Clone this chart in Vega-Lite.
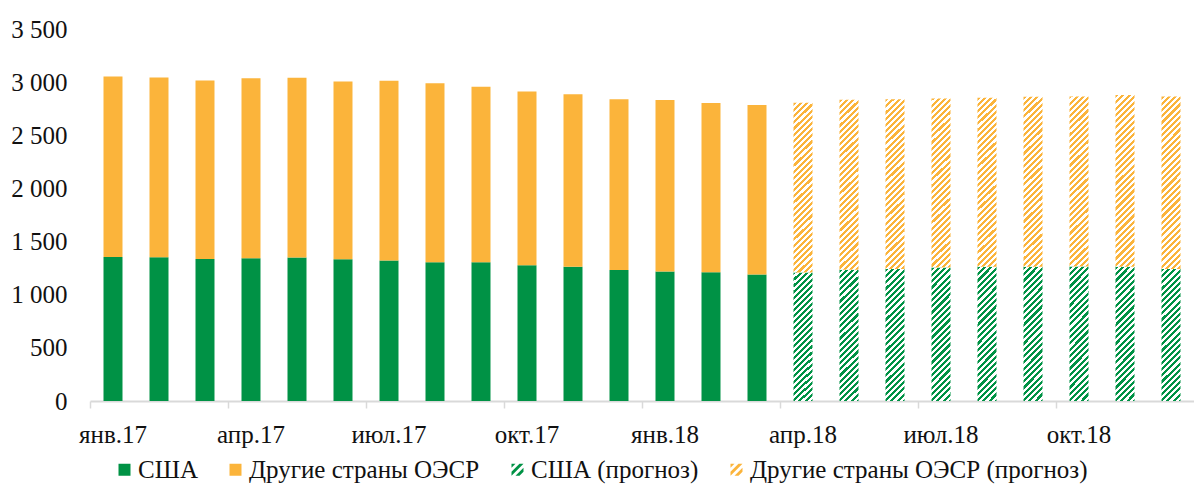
{
  "$schema": "https://vega.github.io/schema/vega-lite/v6.json",
  "width": 1104,
  "height": 372,
  "autosize": {"type": "none"},
  "padding": {"left": 90, "top": 29, "right": 0, "bottom": 84},
  "background": "white",
  "config": {
    "view": {"stroke": null},
    "font": "Liberation Serif",
    "axis": {"labelFont": "Liberation Serif", "labelFontSize": 25, "labelColor": "#111111"},
    "legend": {"labelFont": "Liberation Serif", "labelFontSize": 25, "labelColor": "#111111"}
  },
  "data": {
    "values": [
      {"m": "янв.17", "s": "США", "v": 1355}, {"m": "янв.17", "s": "Другие страны ОЭСР", "v": 1698},
      {"m": "фев.17", "s": "США", "v": 1352}, {"m": "фев.17", "s": "Другие страны ОЭСР", "v": 1692},
      {"m": "мар.17", "s": "США", "v": 1337}, {"m": "мар.17", "s": "Другие страны ОЭСР", "v": 1679},
      {"m": "апр.17", "s": "США", "v": 1343}, {"m": "апр.17", "s": "Другие страны ОЭСР", "v": 1694},
      {"m": "май.17", "s": "США", "v": 1349}, {"m": "май.17", "s": "Другие страны ОЭСР", "v": 1692},
      {"m": "июн.17", "s": "США", "v": 1334}, {"m": "июн.17", "s": "Другие страны ОЭСР", "v": 1672},
      {"m": "июл.17", "s": "США", "v": 1321}, {"m": "июл.17", "s": "Другие страны ОЭСР", "v": 1692},
      {"m": "авг.17", "s": "США", "v": 1306}, {"m": "авг.17", "s": "Другие страны ОЭСР", "v": 1684},
      {"m": "сен.17", "s": "США", "v": 1306}, {"m": "сен.17", "s": "Другие страны ОЭСР", "v": 1651},
      {"m": "окт.17", "s": "США", "v": 1278}, {"m": "окт.17", "s": "Другие страны ОЭСР", "v": 1634},
      {"m": "ноя.17", "s": "США", "v": 1262}, {"m": "ноя.17", "s": "Другие страны ОЭСР", "v": 1625},
      {"m": "дек.17", "s": "США", "v": 1233}, {"m": "дек.17", "s": "Другие страны ОЭСР", "v": 1607},
      {"m": "янв.18", "s": "США", "v": 1218}, {"m": "янв.18", "s": "Другие страны ОЭСР", "v": 1613},
      {"m": "фев.18", "s": "США", "v": 1212}, {"m": "фев.18", "s": "Другие страны ОЭСР", "v": 1591},
      {"m": "мар.18", "s": "США", "v": 1190}, {"m": "мар.18", "s": "Другие страны ОЭСР", "v": 1594},
      {"m": "апр.18", "s": "США (прогноз)", "v": 1210}, {"m": "апр.18", "s": "Другие страны ОЭСР (прогноз)", "v": 1596},
      {"m": "май.18", "s": "США (прогноз)", "v": 1236}, {"m": "май.18", "s": "Другие страны ОЭСР (прогноз)", "v": 1598},
      {"m": "июн.18", "s": "США (прогноз)", "v": 1243}, {"m": "июн.18", "s": "Другие страны ОЭСР (прогноз)", "v": 1597},
      {"m": "июл.18", "s": "США (прогноз)", "v": 1255}, {"m": "июл.18", "s": "Другие страны ОЭСР (прогноз)", "v": 1592},
      {"m": "авг.18", "s": "США (прогноз)", "v": 1262}, {"m": "авг.18", "s": "Другие страны ОЭСР (прогноз)", "v": 1591},
      {"m": "сен.18", "s": "США (прогноз)", "v": 1262}, {"m": "сен.18", "s": "Другие страны ОЭСР (прогноз)", "v": 1600},
      {"m": "окт.18", "s": "США (прогноз)", "v": 1265}, {"m": "окт.18", "s": "Другие страны ОЭСР (прогноз)", "v": 1601},
      {"m": "ноя.18", "s": "США (прогноз)", "v": 1262}, {"m": "ноя.18", "s": "Другие страны ОЭСР (прогноз)", "v": 1616},
      {"m": "дек.18", "s": "США (прогноз)", "v": 1243}, {"m": "дек.18", "s": "Другие страны ОЭСР (прогноз)", "v": 1623}
    ]
  },
  "layer": [
    {
      "mark": {"type": "bar"},
      "encoding": {
        "x": {
          "field": "m",
          "type": "ordinal",
          "scale": {
            "domain": ["янв.17", "фев.17", "мар.17", "апр.17", "май.17", "июн.17", "июл.17", "авг.17", "сен.17", "окт.17", "ноя.17", "дек.17", "янв.18", "фев.18", "мар.18", "апр.18", "май.18", "июн.18", "июл.18", "авг.18", "сен.18", "окт.18", "ноя.18", "дек.18"],
            "paddingInner": 0.587,
            "paddingOuter": 0.2935
          },
          "axis": {
            "title": null,
            "values": ["янв.17", "апр.17", "июл.17", "окт.17", "янв.18", "апр.18", "июл.18", "окт.18"],
            "bandPosition": -0.7105,
            "labelOffset": 0,
            "labelAngle": 0,
            "tickSize": 7,
            "tickWidth": 1.5,
            "tickColor": "#D9D9D9",
            "domainColor": "#D9D9D9",
            "domainWidth": 2,
            "labelPadding": 14,
            "grid": false
          }
        },
        "y": {
          "field": "v",
          "type": "quantitative",
          "stack": "zero",
          "scale": {"domain": [0, 3500]},
          "axis": {
            "title": null,
            "values": [0, 500, 1000, 1500, 2000, 2500, 3000, 3500],
            "domain": false,
            "ticks": false,
            "grid": false,
            "labelPadding": 23,
            "labelExpr": "replace(format(datum.value, ','), ',', ' ')"
          }
        },
        "order": {"field": "s", "sort": "descending"},
        "fill": {
          "condition": [
            {
              "test": "datum.s === 'США (прогноз)'",
              "value": {
                "gradient": "linear", "x1": 0, "y1": 0, "x2": 0.1642, "y2": 1.1495,
                "stops": [
                  {"offset": 0, "color": "#009245"}, {"offset": 0.02, "color": "#009245"}, {"offset": 0.02, "color": "#ffffff"}, {"offset": 0.04, "color": "#ffffff"},
                  {"offset": 0.04, "color": "#009245"}, {"offset": 0.06, "color": "#009245"}, {"offset": 0.06, "color": "#ffffff"}, {"offset": 0.08, "color": "#ffffff"},
                  {"offset": 0.08, "color": "#009245"}, {"offset": 0.1, "color": "#009245"}, {"offset": 0.1, "color": "#ffffff"}, {"offset": 0.12, "color": "#ffffff"},
                  {"offset": 0.12, "color": "#009245"}, {"offset": 0.14, "color": "#009245"}, {"offset": 0.14, "color": "#ffffff"}, {"offset": 0.16, "color": "#ffffff"},
                  {"offset": 0.16, "color": "#009245"}, {"offset": 0.18, "color": "#009245"}, {"offset": 0.18, "color": "#ffffff"}, {"offset": 0.2, "color": "#ffffff"},
                  {"offset": 0.2, "color": "#009245"}, {"offset": 0.22, "color": "#009245"}, {"offset": 0.22, "color": "#ffffff"}, {"offset": 0.24, "color": "#ffffff"},
                  {"offset": 0.24, "color": "#009245"}, {"offset": 0.26, "color": "#009245"}, {"offset": 0.26, "color": "#ffffff"}, {"offset": 0.28, "color": "#ffffff"},
                  {"offset": 0.28, "color": "#009245"}, {"offset": 0.3, "color": "#009245"}, {"offset": 0.3, "color": "#ffffff"}, {"offset": 0.32, "color": "#ffffff"},
                  {"offset": 0.32, "color": "#009245"}, {"offset": 0.34, "color": "#009245"}, {"offset": 0.34, "color": "#ffffff"}, {"offset": 0.36, "color": "#ffffff"},
                  {"offset": 0.36, "color": "#009245"}, {"offset": 0.38, "color": "#009245"}, {"offset": 0.38, "color": "#ffffff"}, {"offset": 0.4, "color": "#ffffff"},
                  {"offset": 0.4, "color": "#009245"}, {"offset": 0.42, "color": "#009245"}, {"offset": 0.42, "color": "#ffffff"}, {"offset": 0.44, "color": "#ffffff"},
                  {"offset": 0.44, "color": "#009245"}, {"offset": 0.46, "color": "#009245"}, {"offset": 0.46, "color": "#ffffff"}, {"offset": 0.48, "color": "#ffffff"},
                  {"offset": 0.48, "color": "#009245"}, {"offset": 0.5, "color": "#009245"}, {"offset": 0.5, "color": "#ffffff"}, {"offset": 0.52, "color": "#ffffff"},
                  {"offset": 0.52, "color": "#009245"}, {"offset": 0.54, "color": "#009245"}, {"offset": 0.54, "color": "#ffffff"}, {"offset": 0.56, "color": "#ffffff"},
                  {"offset": 0.56, "color": "#009245"}, {"offset": 0.58, "color": "#009245"}, {"offset": 0.58, "color": "#ffffff"}, {"offset": 0.6, "color": "#ffffff"},
                  {"offset": 0.6, "color": "#009245"}, {"offset": 0.62, "color": "#009245"}, {"offset": 0.62, "color": "#ffffff"}, {"offset": 0.64, "color": "#ffffff"},
                  {"offset": 0.64, "color": "#009245"}, {"offset": 0.66, "color": "#009245"}, {"offset": 0.66, "color": "#ffffff"}, {"offset": 0.68, "color": "#ffffff"},
                  {"offset": 0.68, "color": "#009245"}, {"offset": 0.7, "color": "#009245"}, {"offset": 0.7, "color": "#ffffff"}, {"offset": 0.72, "color": "#ffffff"},
                  {"offset": 0.72, "color": "#009245"}, {"offset": 0.74, "color": "#009245"}, {"offset": 0.74, "color": "#ffffff"}, {"offset": 0.76, "color": "#ffffff"},
                  {"offset": 0.76, "color": "#009245"}, {"offset": 0.78, "color": "#009245"}, {"offset": 0.78, "color": "#ffffff"}, {"offset": 0.8, "color": "#ffffff"},
                  {"offset": 0.8, "color": "#009245"}, {"offset": 0.82, "color": "#009245"}, {"offset": 0.82, "color": "#ffffff"}, {"offset": 0.84, "color": "#ffffff"},
                  {"offset": 0.84, "color": "#009245"}, {"offset": 0.86, "color": "#009245"}, {"offset": 0.86, "color": "#ffffff"}, {"offset": 0.88, "color": "#ffffff"},
                  {"offset": 0.88, "color": "#009245"}, {"offset": 0.9, "color": "#009245"}, {"offset": 0.9, "color": "#ffffff"}, {"offset": 0.92, "color": "#ffffff"},
                  {"offset": 0.92, "color": "#009245"}, {"offset": 0.94, "color": "#009245"}, {"offset": 0.94, "color": "#ffffff"}, {"offset": 0.96, "color": "#ffffff"},
                  {"offset": 0.96, "color": "#009245"}, {"offset": 0.98, "color": "#009245"}, {"offset": 0.98, "color": "#ffffff"}, {"offset": 1, "color": "#ffffff"}
                ]
              }
            },
            {
              "test": "datum.s === 'Другие страны ОЭСР (прогноз)'",
              "value": {
                "gradient": "linear", "x1": 0, "y1": 0, "x2": 0.1269, "y2": 1.1488,
                "stops": [
                  {"offset": 0, "color": "#FBB43B"}, {"offset": 0.015625, "color": "#FBB43B"}, {"offset": 0.015625, "color": "#ffffff"}, {"offset": 0.03125, "color": "#ffffff"},
                  {"offset": 0.03125, "color": "#FBB43B"}, {"offset": 0.046875, "color": "#FBB43B"}, {"offset": 0.046875, "color": "#ffffff"}, {"offset": 0.0625, "color": "#ffffff"},
                  {"offset": 0.0625, "color": "#FBB43B"}, {"offset": 0.078125, "color": "#FBB43B"}, {"offset": 0.078125, "color": "#ffffff"}, {"offset": 0.09375, "color": "#ffffff"},
                  {"offset": 0.09375, "color": "#FBB43B"}, {"offset": 0.109375, "color": "#FBB43B"}, {"offset": 0.109375, "color": "#ffffff"}, {"offset": 0.125, "color": "#ffffff"},
                  {"offset": 0.125, "color": "#FBB43B"}, {"offset": 0.140625, "color": "#FBB43B"}, {"offset": 0.140625, "color": "#ffffff"}, {"offset": 0.15625, "color": "#ffffff"},
                  {"offset": 0.15625, "color": "#FBB43B"}, {"offset": 0.171875, "color": "#FBB43B"}, {"offset": 0.171875, "color": "#ffffff"}, {"offset": 0.1875, "color": "#ffffff"},
                  {"offset": 0.1875, "color": "#FBB43B"}, {"offset": 0.203125, "color": "#FBB43B"}, {"offset": 0.203125, "color": "#ffffff"}, {"offset": 0.21875, "color": "#ffffff"},
                  {"offset": 0.21875, "color": "#FBB43B"}, {"offset": 0.234375, "color": "#FBB43B"}, {"offset": 0.234375, "color": "#ffffff"}, {"offset": 0.25, "color": "#ffffff"},
                  {"offset": 0.25, "color": "#FBB43B"}, {"offset": 0.265625, "color": "#FBB43B"}, {"offset": 0.265625, "color": "#ffffff"}, {"offset": 0.28125, "color": "#ffffff"},
                  {"offset": 0.28125, "color": "#FBB43B"}, {"offset": 0.296875, "color": "#FBB43B"}, {"offset": 0.296875, "color": "#ffffff"}, {"offset": 0.3125, "color": "#ffffff"},
                  {"offset": 0.3125, "color": "#FBB43B"}, {"offset": 0.328125, "color": "#FBB43B"}, {"offset": 0.328125, "color": "#ffffff"}, {"offset": 0.34375, "color": "#ffffff"},
                  {"offset": 0.34375, "color": "#FBB43B"}, {"offset": 0.359375, "color": "#FBB43B"}, {"offset": 0.359375, "color": "#ffffff"}, {"offset": 0.375, "color": "#ffffff"},
                  {"offset": 0.375, "color": "#FBB43B"}, {"offset": 0.390625, "color": "#FBB43B"}, {"offset": 0.390625, "color": "#ffffff"}, {"offset": 0.40625, "color": "#ffffff"},
                  {"offset": 0.40625, "color": "#FBB43B"}, {"offset": 0.421875, "color": "#FBB43B"}, {"offset": 0.421875, "color": "#ffffff"}, {"offset": 0.4375, "color": "#ffffff"},
                  {"offset": 0.4375, "color": "#FBB43B"}, {"offset": 0.453125, "color": "#FBB43B"}, {"offset": 0.453125, "color": "#ffffff"}, {"offset": 0.46875, "color": "#ffffff"},
                  {"offset": 0.46875, "color": "#FBB43B"}, {"offset": 0.484375, "color": "#FBB43B"}, {"offset": 0.484375, "color": "#ffffff"}, {"offset": 0.5, "color": "#ffffff"},
                  {"offset": 0.5, "color": "#FBB43B"}, {"offset": 0.515625, "color": "#FBB43B"}, {"offset": 0.515625, "color": "#ffffff"}, {"offset": 0.53125, "color": "#ffffff"},
                  {"offset": 0.53125, "color": "#FBB43B"}, {"offset": 0.546875, "color": "#FBB43B"}, {"offset": 0.546875, "color": "#ffffff"}, {"offset": 0.5625, "color": "#ffffff"},
                  {"offset": 0.5625, "color": "#FBB43B"}, {"offset": 0.578125, "color": "#FBB43B"}, {"offset": 0.578125, "color": "#ffffff"}, {"offset": 0.59375, "color": "#ffffff"},
                  {"offset": 0.59375, "color": "#FBB43B"}, {"offset": 0.609375, "color": "#FBB43B"}, {"offset": 0.609375, "color": "#ffffff"}, {"offset": 0.625, "color": "#ffffff"},
                  {"offset": 0.625, "color": "#FBB43B"}, {"offset": 0.640625, "color": "#FBB43B"}, {"offset": 0.640625, "color": "#ffffff"}, {"offset": 0.65625, "color": "#ffffff"},
                  {"offset": 0.65625, "color": "#FBB43B"}, {"offset": 0.671875, "color": "#FBB43B"}, {"offset": 0.671875, "color": "#ffffff"}, {"offset": 0.6875, "color": "#ffffff"},
                  {"offset": 0.6875, "color": "#FBB43B"}, {"offset": 0.703125, "color": "#FBB43B"}, {"offset": 0.703125, "color": "#ffffff"}, {"offset": 0.71875, "color": "#ffffff"},
                  {"offset": 0.71875, "color": "#FBB43B"}, {"offset": 0.734375, "color": "#FBB43B"}, {"offset": 0.734375, "color": "#ffffff"}, {"offset": 0.75, "color": "#ffffff"},
                  {"offset": 0.75, "color": "#FBB43B"}, {"offset": 0.765625, "color": "#FBB43B"}, {"offset": 0.765625, "color": "#ffffff"}, {"offset": 0.78125, "color": "#ffffff"},
                  {"offset": 0.78125, "color": "#FBB43B"}, {"offset": 0.796875, "color": "#FBB43B"}, {"offset": 0.796875, "color": "#ffffff"}, {"offset": 0.8125, "color": "#ffffff"},
                  {"offset": 0.8125, "color": "#FBB43B"}, {"offset": 0.828125, "color": "#FBB43B"}, {"offset": 0.828125, "color": "#ffffff"}, {"offset": 0.84375, "color": "#ffffff"},
                  {"offset": 0.84375, "color": "#FBB43B"}, {"offset": 0.859375, "color": "#FBB43B"}, {"offset": 0.859375, "color": "#ffffff"}, {"offset": 0.875, "color": "#ffffff"},
                  {"offset": 0.875, "color": "#FBB43B"}, {"offset": 0.890625, "color": "#FBB43B"}, {"offset": 0.890625, "color": "#ffffff"}, {"offset": 0.90625, "color": "#ffffff"},
                  {"offset": 0.90625, "color": "#FBB43B"}, {"offset": 0.921875, "color": "#FBB43B"}, {"offset": 0.921875, "color": "#ffffff"}, {"offset": 0.9375, "color": "#ffffff"},
                  {"offset": 0.9375, "color": "#FBB43B"}, {"offset": 0.953125, "color": "#FBB43B"}, {"offset": 0.953125, "color": "#ffffff"}, {"offset": 0.96875, "color": "#ffffff"},
                  {"offset": 0.96875, "color": "#FBB43B"}, {"offset": 0.984375, "color": "#FBB43B"}, {"offset": 0.984375, "color": "#ffffff"}, {"offset": 1, "color": "#ffffff"}
                ]
              }
            }
          ],
          "field": "s",
          "type": "nominal",
          "scale": {
            "domain": ["США", "Другие страны ОЭСР", "США (прогноз)", "Другие страны ОЭСР (прогноз)"],
            "range": ["#009245", "#FBB43B", "#009245", "#FBB43B"]
          },
          "legend": {
            "title": null,
            "orient": "none",
            "direction": "horizontal",
            "legendX": 22,
            "legendY": 428,
            "symbolSize": 144,
            "symbolStrokeWidth": 0,
            "symbolOpacity": 1,
            "labelOffset": 1,
            "columnPadding": 25,
            "labelLimit": 0
          }
        }
      }
    },
    {
      "transform": [{"filter": "false"}],
      "mark": {"type": "point", "filled": true, "opacity": 1},
      "encoding": {
        "fill": {
          "field": "s",
          "type": "nominal",
          "legend": {
            "title": null,
            "orient": "none",
            "direction": "horizontal",
            "legendX": 22,
            "legendY": 428,
            "symbolSize": 144,
            "symbolStrokeWidth": 0,
            "symbolOpacity": 1,
            "labelOffset": 1,
            "columnPadding": 25,
            "labelLimit": 0
          }
        },
        "shape": {
          "field": "s",
          "type": "nominal",
          "scale": {
            "domain": ["США", "Другие страны ОЭСР", "США (прогноз)", "Другие страны ОЭСР (прогноз)"],
            "range": [
              "square",
              "square",
              "M-1,-1L-0.333,-1L-1,-0.333Z M0.333,-1L1,-1L-1,1L-1,0.333Z M1,-0.333L1,0.333L0.333,1L-0.333,1Z",
              "M-1,-1L-0.333,-1L-1,-0.333Z M0.333,-1L1,-1L-1,1L-1,0.333Z M1,-0.333L1,0.333L0.333,1L-0.333,1Z"
            ]
          },
          "legend": {
            "title": null,
            "orient": "none",
            "direction": "horizontal",
            "legendX": 22,
            "legendY": 428,
            "symbolSize": 144,
            "symbolStrokeWidth": 0,
            "symbolOpacity": 1,
            "labelOffset": 1,
            "columnPadding": 25,
            "labelLimit": 0
          }
        }
      }
    }
  ]
}
